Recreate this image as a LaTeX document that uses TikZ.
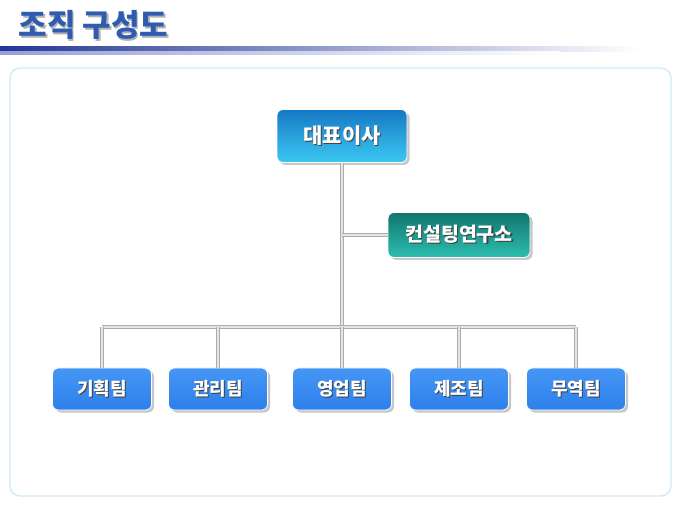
\documentclass[tikz,border=0pt]{standalone}
\usepackage{xcolor}
\usepackage{fontspec}
\usepackage{tikz}
\usetikzlibrary{shadows}
\newfontfamily\kr{Noto Sans CJK KR}

\definecolor{ceotop}{RGB}{22,120,196}
\definecolor{ceobot}{RGB}{60,200,242}
\definecolor{labtop}{RGB}{18,118,110}
\definecolor{labbot}{RGB}{44,190,176}
\definecolor{teamtop}{RGB}{70,150,245}
\definecolor{teambot}{RGB}{44,128,235}
\definecolor{framecol}{RGB}{208,234,246}
\definecolor{titlecol}{RGB}{48,92,176}
\definecolor{bardark}{RGB}{36,54,150}
\definecolor{barmid}{RGB}{150,160,215}

% white label with a dark shadow under it
\newcommand{\shd}[1]{\makebox[0pt][l]{\kern1.2pt\raisebox{-1.2pt}{\color{black!75}#1}}#1}

\begin{document}
\begin{tikzpicture}
	[x=1pt,y=-1pt,
	box/.style={rounded corners=6pt, draw=white, line width=0.8pt, text=white,
		font=\kr\bfseries\fontsize{18}{18}\selectfont,
		drop shadow={shadow xshift=2.5pt, shadow yshift=-2.5pt, fill=gray!55, opacity=0.8}},
	ceobox/.style={box, minimum width=130pt, minimum height=53pt, top color=ceotop, bottom color=ceobot,
		font=\kr\bfseries\fontsize{21}{21}\selectfont},
	labbox/.style={box, minimum width=142pt, minimum height=45pt, top color=labtop, bottom color=labbot,
		font=\kr\bfseries\fontsize{19.5}{19.5}\selectfont},
	teambox/.style={box, minimum width=99pt, minimum height=42pt, top color=teamtop, bottom color=teambot},
	conn/.style={draw=gray!65, double=gray!20, double distance=1.6pt, line width=1pt}]
	\useasboundingbox (0,0) rectangle (680,510);
	% title
	\node[anchor=west, text=titlecol, font=\kr\bfseries\fontsize{31}{31}\selectfont] (title) at (15,26)
		{\makebox[0pt][l]{\kern1.5pt\raisebox{-1.5pt}{\color{gray!60}조직 구성도}}조직 구성도};
	\shade[left color=bardark, middle color=barmid, right color=white] (0,47) rectangle (640,52);
	\shade[left color=barmid, right color=white] (0,52) rectangle (560,55);
	% frame
	\draw[framecol, line width=1.4pt, rounded corners=10pt] (10,68) rectangle (671,496);
	% boxes
	\node[ceobox] (ceo) at (342,136) {\shd{대표이사}};
	\node[labbox] (lab) at (459,235) {\shd{컨설팅연구소}};
	\node[teambox] (t1) at (102,389) {\shd{기획팀}};
	\node[teambox] (t2) at (218,389) {\shd{관리팀}};
	\node[teambox] (t3) at (342,389) {\shd{영업팀}};
	\node[teambox] (t4) at (459,389) {\shd{제조팀}};
	\node[teambox] (t5) at (576,389) {\shd{무역팀}};
	\coordinate (bar) at (342,327);
	% lines
	\draw[conn] (ceo.south) -- (bar);
	\draw[conn] (ceo.south |- lab.west) -- (lab.west);
	\draw[conn] (t1.north |- bar) -- (t5.north |- bar);
	\foreach \t in {t1,t2,t3,t4,t5}
		\draw[conn] (\t.north |- bar) -- (\t.north);
\end{tikzpicture}
\end{document}
